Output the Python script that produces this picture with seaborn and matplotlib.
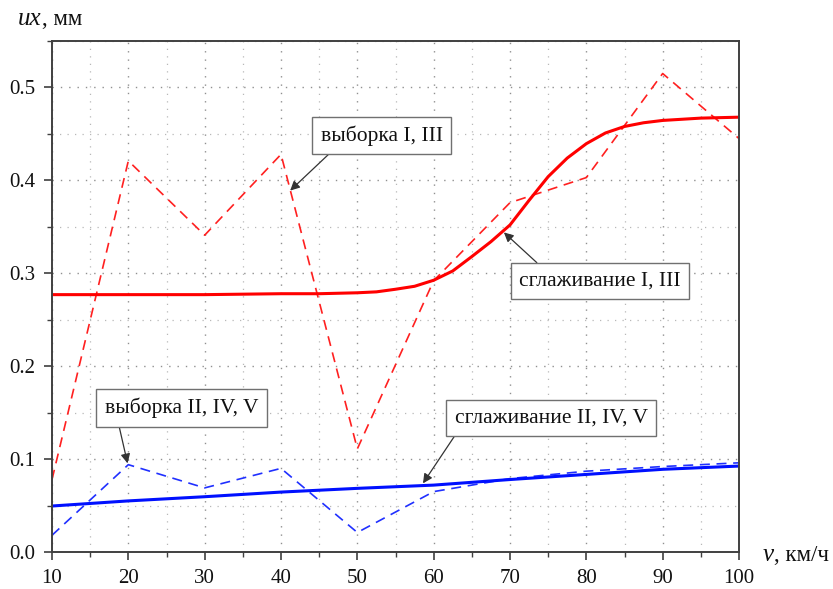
import numpy as np
import pandas as pd
import matplotlib
matplotlib.use("Agg")
import matplotlib.pyplot as plt
from matplotlib.ticker import MultipleLocator
import seaborn as sns

# ---- data ----
v_sample = [10, 20, 30, 40, 50, 60, 70, 80, 90, 100]
sample_I_III = [0.078, 0.421, 0.341, 0.428, 0.111, 0.292, 0.376, 0.403, 0.515, 0.445]
sample_II_IV_V = [0.018, 0.094, 0.069, 0.090, 0.021, 0.065, 0.079, 0.087, 0.092, 0.096]

v_smooth_I_III = [10, 20, 30, 40, 45, 50, 52.5, 55, 57.5, 60, 62.5, 65, 67.5, 70, 72.5,
                  75, 77.5, 80, 82.5, 85, 87.5, 90, 95, 100]
smooth_I_III = [0.277, 0.277, 0.277, 0.278, 0.278, 0.279, 0.280, 0.2828, 0.286, 0.2925,
                0.3025, 0.318, 0.334, 0.352, 0.3785, 0.404, 0.424, 0.4395, 0.451, 0.458,
                0.462, 0.4645, 0.467, 0.468]

v_smooth_II = [10, 20, 30, 40, 50, 60, 70, 80, 90, 100]
smooth_II_IV_V = [0.0495, 0.055, 0.0595, 0.0645, 0.0685, 0.072, 0.078, 0.0835, 0.089, 0.0925]

labels = ["выборка I, III", "сглаживание I, III", "выборка II, IV, V", "сглаживание II, IV, V"]

# ---- style ----
sns.set_theme(style="white")
plt.rcParams['font.family'] = ['Liberation Serif', 'DejaVu Serif']

fig = plt.figure(figsize=(8.33, 5.89), dpi=100)
ax = fig.add_axes([52/833, 1-552/589, (739-52)/833, (552-41)/589])

dash = (0, (6, 4))
sns.lineplot(x=v_sample, y=sample_I_III, color="#ff2020", linewidth=1.2, linestyle=dash, ax=ax)
sns.lineplot(x=v_sample, y=sample_II_IV_V, color="#2030ff", linewidth=1.2, linestyle=dash, ax=ax)
sns.lineplot(x=v_smooth_I_III, y=smooth_I_III, color="#ff0000", linewidth=2.2, ax=ax)
sns.lineplot(x=v_smooth_II, y=smooth_II_IV_V, color="#0010ff", linewidth=2.2, ax=ax)

ax.set_xlim(10, 100)
ax.set_ylim(0, 0.55)
ax.xaxis.set_major_locator(MultipleLocator(10))
ax.xaxis.set_minor_locator(MultipleLocator(5))
ax.yaxis.set_major_locator(MultipleLocator(0.1))
ax.yaxis.set_minor_locator(MultipleLocator(0.05))
ax.yaxis.set_major_formatter(matplotlib.ticker.FormatStrFormatter('%.1f'))

ax.set_axisbelow(True)
ax.grid(which='major', color='#909090', linestyle=(0, (1, 5)), linewidth=1.0)
ax.grid(which='minor', color='#b8b8b8', linestyle=(0, (1, 5)), linewidth=0.9)

for s in ax.spines.values():
    s.set_color('#404040')
    s.set_linewidth(1.4)
    s.set_visible(True)

ax.tick_params(which='major', direction='out', length=6, width=1.2, color='#404040',
               labelsize=15, labelcolor='#111111', bottom=True, left=True, pad=6)
ax.tick_params(which='minor', direction='out', length=3.5, width=1.0, color='#404040',
               bottom=True, left=True)
ax.set_xlabel("")
ax.set_ylabel("")

# axis titles
t1 = fig.text(18/833, 1-19/589, "ux", fontsize=18, style='italic', va='center', ha='left', color='#111111')
ax.annotate(", мм", xy=(1, 0), xycoords=t1, va='bottom', ha='left', fontsize=16.5,
            color='#111111', annotation_clip=False)
t2 = fig.text(763/833, 1-555/589, "v", fontsize=18, style='italic', va='center', ha='left', color='#111111')
ax.annotate(", км/ч", xy=(1, 0), xycoords=t2, va='bottom', ha='left', fontsize=16.5,
            color='#111111', annotation_clip=False)

# annotations
box = dict(boxstyle='square,pad=0.4', fc='white', ec='#707070', lw=1.0)
specs = [
    (labels[0], (41.2, 0.389), (53.2, 0.4484), (0.14, 0.0)),
    (labels[1], (69.2, 0.344), (81.8, 0.2914), (0.17, 1.0)),
    (labels[2], (19.9, 0.0954), (27.0, 0.1548), (0.08, 0.0)),
    (labels[3], (58.6, 0.0739), (75.4, 0.1446), (0.03, 0.0)),
]
for txt, xy, xyt, rp in specs:
    ax.annotate(txt, xy=xy, xytext=xyt, textcoords='data', ha='center', va='center',
                fontsize=15.5, color='#111111', bbox=box,
                arrowprops=dict(arrowstyle='-|>', color='#333333', lw=0.9,
                                mutation_scale=14, shrinkA=0, shrinkB=0, relpos=rp))

fig.savefig("out.png", dpi=100)
